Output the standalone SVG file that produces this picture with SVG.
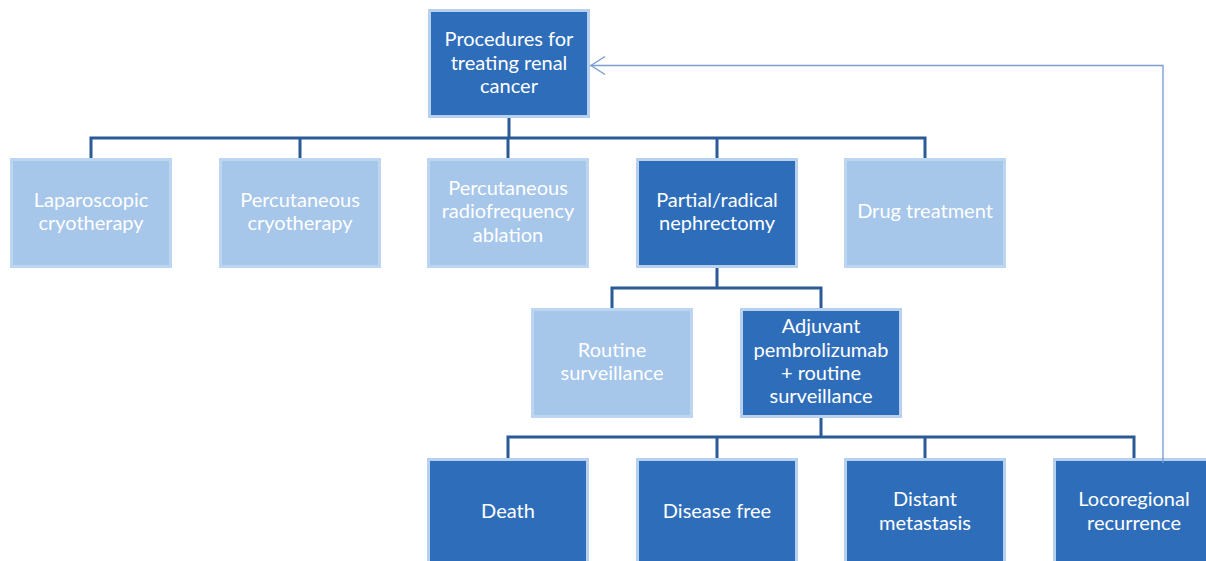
<svg xmlns="http://www.w3.org/2000/svg" width="1206" height="561" viewBox="0 0 1206 561">
<defs>
<style>
.dark{fill:#2E6DBA;stroke:#B6D0EE;stroke-width:3}
.light{fill:#A6C6EA;stroke:#BCD5F0;stroke-width:3}
.t{font-family:Lato,"Liberation Sans",sans-serif;font-size:20px;fill:#FFFFFF;text-anchor:middle}
.c{fill:none;stroke:#2A5B97;stroke-width:3}
.fb{fill:none;stroke:#7A9FD4;stroke-width:1.4}
</style>
<marker id="open" markerWidth="18" markerHeight="22" refX="16" refY="10" orient="auto" markerUnits="userSpaceOnUse">
<path d="M1,1 L15,10 L1,19" fill="none" stroke="#7A9FD4" stroke-width="1.4"/>
</marker>
</defs>
<rect width="1206" height="561" fill="#FFFFFF"/>
<g id="connectors">
<path class="c" d="M509,118 V138 M91,158 V138 H925 V158 M300,138 V158 M508,138 V158 M717,138 V158"/>
<path class="c" d="M717,268 V288 M612,308 V288 H821 V308"/>
<path class="c" d="M821,418 V437 M508,458 V437 H1134 V458 M717,437 V458 M925,437 V458"/>
</g>
<g id="n_root"><rect class="dark" x="429.5" y="10.5" width="159" height="106"/>
<text class="t" x="509" y="46">Procedures for</text><text class="t" x="509" y="70">treating renal</text><text class="t" x="509" y="93">cancer</text></g>
<g id="n_lap"><rect class="light" x="11.5" y="159.5" width="159" height="107"/>
<text class="t" x="91" y="207">Laparoscopic</text><text class="t" x="91" y="230">cryotherapy</text></g>
<g id="n_perc"><rect class="light" x="220.5" y="159.5" width="159" height="107"/>
<text class="t" x="300" y="207">Percutaneous</text><text class="t" x="300" y="230">cryotherapy</text></g>
<g id="n_rfa"><rect class="light" x="428.5" y="159.5" width="159" height="107"/>
<text class="t" x="508" y="195">Percutaneous</text><text class="t" x="508" y="218">radiofrequency</text><text class="t" x="508" y="242">ablation</text></g>
<g id="n_neph"><rect class="dark" x="637.5" y="159.5" width="159" height="107"/>
<text class="t" x="717" y="207">Partial/radical</text><text class="t" x="717" y="230">nephrectomy</text></g>
<g id="n_drug"><rect class="light" x="845.5" y="159.5" width="159" height="107"/>
<text class="t" x="925" y="218">Drug treatment</text></g>
<g id="n_routine"><rect class="light" x="532.5" y="309.5" width="159" height="107"/>
<text class="t" x="612" y="357">Routine</text><text class="t" x="612" y="380">surveillance</text></g>
<g id="n_adj"><rect class="dark" x="741.5" y="309.5" width="159" height="107"/>
<text class="t" x="821" y="333">Adjuvant</text><text class="t" x="821" y="357">pembrolizumab</text><text class="t" x="821" y="380">+ routine</text><text class="t" x="821" y="403">surveillance</text></g>
<g id="n_death"><rect class="dark" x="428.5" y="459.5" width="159" height="107"/>
<text class="t" x="508" y="518">Death</text></g>
<g id="n_free"><rect class="dark" x="637.5" y="459.5" width="159" height="107"/>
<text class="t" x="717" y="518">Disease free</text></g>
<g id="n_dist"><rect class="dark" x="845.5" y="459.5" width="159" height="107"/>
<text class="t" x="925" y="506">Distant</text><text class="t" x="925" y="530">metastasis</text></g>
<g id="n_loco"><rect class="dark" x="1054.5" y="459.5" width="159" height="107"/>
<text class="t" x="1134" y="506">Locoregional</text><text class="t" x="1134" y="530">recurrence</text></g>
<g id="feedback">
<path class="fb" d="M1163,463 V65.5 H590" marker-end="url(#open)"/>
</g>
</svg>
